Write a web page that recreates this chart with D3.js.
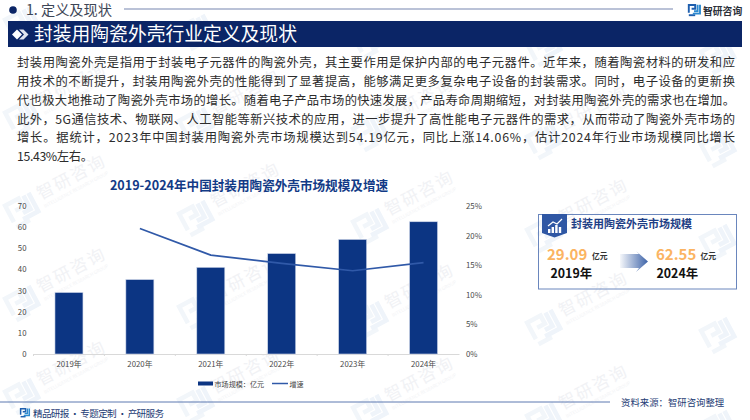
<!DOCTYPE html>
<html>
<head>
<meta charset="utf-8">
<script src="https://cdn.jsdelivr.net/npm/d3@7"></script>
<style>
    html, body { margin: 0; padding: 0; background: #fff; }
    svg { display: block; font-family: "Noto Sans CJK SC", "Noto Sans", sans-serif; }
</style>
</head>
<body>
<svg id="scene"></svg>
<script>
const years = ['2019年', '2020年', '2021年', '2022年', '2023年', '2024年'];
const marketSize = [29.09, 35.2, 41.0, 47.51, 54.19, 62.55];
const growth = [null, 21.2, 16.7, 15.3, 14.06, 15.43];
const leftTicks = [0, 10, 20, 30, 40, 50, 60, 70];
const rightTicks = [0, 5, 10, 15, 20, 25];
const bodyLines = [
    '封装用陶瓷外壳是指用于封装电子元器件的陶瓷外壳，其主要作用是保护内部的电子元器件。近年来，随着陶瓷材料的研发和应',
    '用技术的不断提升，封装用陶瓷外壳的性能得到了显著提高，能够满足更多复杂电子设备的封装需求。同时，电子设备的更新换',
    '代也极大地推动了陶瓷外壳市场的增长。随着电子产品市场的快速发展，产品寿命周期缩短，对封装用陶瓷外壳的需求也在增加。',
    '此外，5G通信技术、物联网、人工智能等新兴技术的应用，进一步提升了高性能电子元器件的需求，从而带动了陶瓷外壳市场的',
    '增长。据统计，2023年中国封装用陶瓷外壳市场规模达到54.19亿元，同比上涨14.06%，估计2024年行业市场规模同比增长',
    '15.43%左右。'
];

const navy = '#0b2566', barBlue = '#0c3583', lineBlue = '#3059a8';

function logo(g, x, y, s, c1, c2) {
    // the little square company mark, built from a few strokes
    let m = g.append('g').attr('transform', `translate(${x},${y}) scale(${s})`)
        .attr('fill', 'none').attr('stroke-width', 2.4);
    m.append('path').attr('stroke', c1).attr('d', 'M1 11V1.2H9V6H4.5');
    m.append('path').attr('stroke', c1).attr('d', 'M1 14H9');
    m.append('path').attr('stroke', c2).attr('d', 'M12 1V9H7.5');
    m.append('path').attr('stroke', c2).attr('d', 'M6 12H15V1');
    return m;
}

function init() {
    let svg = d3.select('#scene').attr('width', 750).attr('height', 420);

    // watermark layer, text only where it fits inside the page
    let wm = svg.append('g');
    for (let c = 0; c < 5; c++) {
        for (let r = -1; r < 5; r++) {
            let wx = 37 + c * 174;
            let wy = 100 + r * 93 + c * 8;
            let one = wm.append('g').attr('transform', `translate(${wx},${wy}) rotate(-28)`);
            logo(one, -36, -6, 1.9, '#f2f6fa', '#eff4fa');
            if (c < 4 && wy > 45 && wy < 410) {
                one.append('text').text('智研咨询').attr('y', 8).attr('font-size', 17)
                    .attr('letter-spacing', 2).attr('fill', '#f1f2f5');
                one.append('text').text('INTELLIGENCE RESEARCH GROUP').attr('y', 17).attr('font-size', 4.6)
                    .attr('fill', '#f3f4f6');
            }
        }
    }

    // top strip
    svg.append('circle').attr('cx', 13).attr('cy', 10).attr('r', 3.8).attr('fill', navy);
    svg.append('text').text('1. 定义及现状').attr('x', 26).attr('y', 15)
        .attr('font-size', 14.2).attr('fill', '#3d4656');
    svg.append('line').attr('x1', 124).attr('x2', 673).attr('y1', 9).attr('y2', 9)
        .attr('stroke', '#a3aeca').attr('stroke-width', 1.6);
    logo(svg, 688, 4, 0.8, '#1f5fae', '#2d8ad0');
    svg.append('text').text('智研咨询').attr('x', 703).attr('y', 14.5)
        .attr('font-size', 9.8).attr('font-weight', 700).attr('fill', '#2b2f38');

    // header bar
    svg.append('rect').attr('x', 8).attr('y', 21).attr('width', 734).attr('height', 26).attr('fill', navy);
    svg.append('path').attr('fill', '#fff').attr('d', 'M12 34.5L17 29.5L22 34.5L17 39.5Z');
    svg.append('path').attr('fill', '#dfe4ef').attr('d', 'M19 29.5L24 34.5L19 39.5L23.5 39.5L28.5 34.5L23.5 29.5Z');
    svg.append('text').text('封装用陶瓷外壳行业定义及现状').attr('x', 34).attr('y', 41)
        .attr('font-size', 18.8).attr('fill', '#fff');

    // body paragraph
    svg.append('g').selectAll('text')
        .data(bodyLines)
        .enter()
        .append('text')
        .text(d => d)
        .attr('x', 17)
        .attr('y', (d, i) => 67.2 + i * 18.8)
        .attr('font-size', 12.3)
        .attr('fill', '#2c2c2c')
        .attr('textLength', (d, i) => i < 5 ? 718 : 76)
        .attr('lengthAdjust', 'spacing');

    // chart
    let x = d3.scaleBand().domain(years).range([33.5, 459]).padding(0);
    let y = d3.scaleLinear().domain([0, 70]).range([354, 206]);
    let yRight = d3.scaleLinear().domain([0, 25]).range([354, 206]);

    svg.append('text').text('2019-2024年中国封装用陶瓷外壳市场规模及增速')
        .attr('x', 249).attr('y', 190).attr('text-anchor', 'middle')
        .attr('font-size', 12.6).attr('font-weight', 700).attr('fill', '#123a86');

    let axisLeft = d3.axisLeft(y).tickValues(leftTicks).tickSize(0).tickPadding(7);
    let gl = svg.append('g').attr('transform', 'translate(33.5,0)').call(axisLeft);
    gl.select('.domain').remove();

    let axisRight = d3.axisRight(yRight).tickValues(rightTicks).tickSize(0).tickPadding(7)
        .tickFormat(d => d + '%');
    let gr = svg.append('g').attr('transform', 'translate(459,0)').call(axisRight);
    gr.select('.domain').remove();

    let axisX = d3.axisBottom(x).tickSize(0).tickPadding(7);
    let gx = svg.append('g').attr('transform', 'translate(0,354)').call(axisX);
    gx.select('.domain').attr('stroke', '#d9d9d9');

    svg.selectAll('.tick text').attr('font-size', 7.8).attr('font-family', '"Noto Sans CJK SC"').attr('fill', '#4a4a4a');

    // small ticks sit between the categories
    svg.append('g').selectAll('line')
        .data(years)
        .enter()
        .append('line')
        .attr('x1', d => x(d))
        .attr('x2', d => x(d))
        .attr('y1', 354)
        .attr('y2', 356)
        .attr('stroke', '#d9d9d9');

    svg.append('g').selectAll('rect')
        .data(years)
        .enter()
        .append('rect')
        .attr('x', d => x(d) + x.bandwidth() / 2 - 14)
        .attr('y', (d, i) => y(marketSize[i]))
        .attr('width', 28)
        .attr('height', (d, i) => y(0) - y(marketSize[i]))
        .attr('fill', barBlue)
        .attr('stroke', '#cfd8ea')
        .attr('stroke-width', 0.6);

    let line = d3.line()
        .defined((d, i) => growth[i] !== null)
        .x(d => x(d) + x.bandwidth() / 2)
        .y((d, i) => yRight(growth[i]));
    svg.append('path').attr('d', line(years)).attr('fill', 'none')
        .attr('stroke', lineBlue).attr('stroke-width', 1.7).attr('stroke-linejoin', 'round');

    // legend
    svg.append('rect').attr('x', 198).attr('y', 381.5).attr('width', 15).attr('height', 4).attr('fill', barBlue);
    svg.append('text').text('市场规模：亿元').attr('x', 214.5).attr('y', 386.5).attr('font-size', 7.1).attr('fill', '#444');
    svg.append('line').attr('x1', 272).attr('x2', 288).attr('y1', 383.5).attr('y2', 383.5)
        .attr('stroke', lineBlue).attr('stroke-width', 1.5);
    svg.append('text').text('增速').attr('x', 289.5).attr('y', 386.5).attr('font-size', 7.1).attr('fill', '#444');

    // side panel
    let defs = svg.append('defs');
    let grad = defs.append('linearGradient').attr('id', 'arrowFade');
    grad.append('stop').attr('offset', '0%').attr('stop-color', '#3d63a8').attr('stop-opacity', 0.05);
    grad.append('stop').attr('offset', '100%').attr('stop-color', '#3d63a8').attr('stop-opacity', 1);

    let panel = svg.append('g');
    panel.append('rect').attr('x', 538.5).attr('y', 214.5).attr('width', 198).attr('height', 74.5)
        .attr('fill', 'none').attr('stroke', '#6a86bd').attr('stroke-width', 1);
    panel.append('path').attr('fill', '#2f57a4').attr('d', 'M542 214H567V233L554.5 237.5L542 233Z');
    panel.append('path').attr('fill', 'none').attr('stroke', '#fff').attr('stroke-width', 1.2)
        .attr('d', 'M548 226L553 222L557 224L562 219');
    panel.append('g').attr('fill', '#fff').selectAll('rect')
        .data([229, 227, 225, 227])
        .enter()
        .append('rect')
        .attr('x', (d, i) => 548 + i * 3.6)
        .attr('y', d => d)
        .attr('width', 2.4)
        .attr('height', d => 233 - d);
    panel.append('text').text('封装用陶瓷外壳市场规模').attr('x', 571).attr('y', 228)
        .attr('font-size', 11).attr('font-weight', 700).attr('fill', '#1f3f86');

    panel.append('text').text(marketSize[0].toFixed(2)).attr('x', 547).attr('y', 260)
        .attr('font-size', 15).attr('font-weight', 700).attr('fill', '#fbb462');
    panel.append('text').text('亿元').attr('x', 592).attr('y', 259)
        .attr('font-size', 7.8).attr('font-weight', 700).attr('fill', '#333');
    panel.append('text').text(years[0]).attr('x', 550.5).attr('y', 278)
        .attr('font-size', 12.4).attr('font-weight', 700).attr('fill', '#111');

    panel.append('text').text(marketSize[5].toFixed(2)).attr('x', 656).attr('y', 260)
        .attr('font-size', 15).attr('font-weight', 700).attr('fill', '#fbb462');
    panel.append('text').text('亿元').attr('x', 700.5).attr('y', 259)
        .attr('font-size', 7.8).attr('font-weight', 700).attr('fill', '#333');
    panel.append('text').text(years[5]).attr('x', 656.5).attr('y', 278)
        .attr('font-size', 12.4).attr('font-weight', 700).attr('fill', '#111');

    panel.append('path').attr('fill', 'url(#arrowFade)')
        .attr('d', 'M620 254H639L636 251L648 261.5L636 272L639 268H620Z');

    // footer
    svg.append('line').attr('x1', 0).attr('x2', 610).attr('y1', 402).attr('y2', 402)
        .attr('stroke', '#5d78b0').attr('stroke-width', 1);
    logo(svg, 20, 408, 0.62, '#1f5fae', '#2d8ad0');
    svg.append('text').text('精品研报 · 专题定制 · 产研服务').attr('x', 33).attr('y', 417)
        .attr('font-size', 9.6).attr('fill', '#1e3c75')
        .attr('textLength', 131).attr('lengthAdjust', 'spacing');
    svg.append('text').text('资料来源：智研咨询整理').attr('x', 621).attr('y', 406)
        .attr('font-size', 9.4).attr('fill', '#1e3c75');
}

onload = function () {
    init();
}
</script>
</body>
</html>
